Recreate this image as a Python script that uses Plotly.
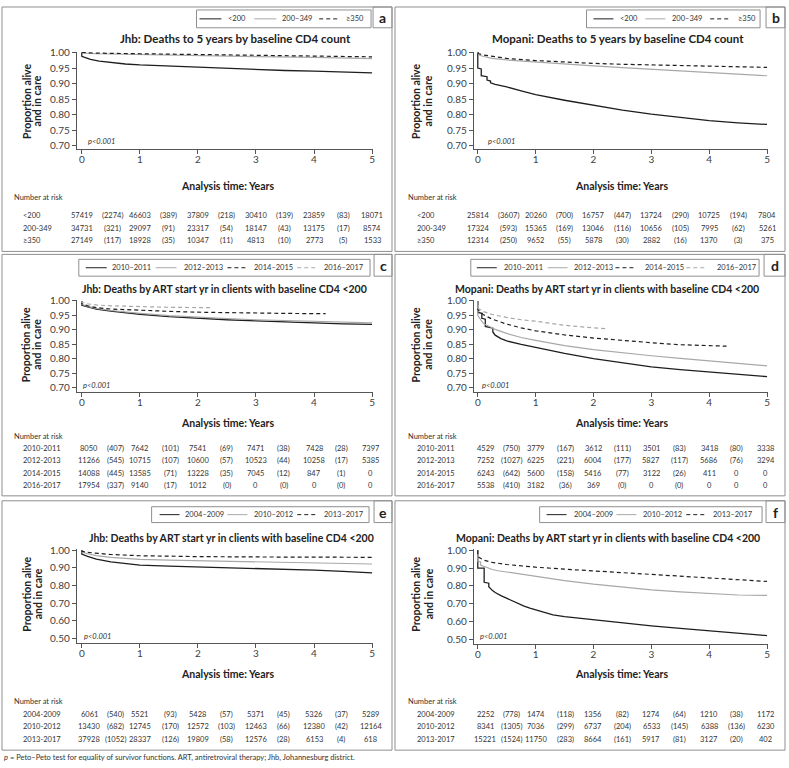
import plotly.graph_objects as go

# ---------------- data ----------------
# a: Jhb, deaths to 5 years by baseline CD4 count
A_LT200_T = [0, 0, 0.05, 0.15, 0.3, 0.5, 0.75, 1, 1.5, 2, 2.5, 3, 3.5, 4, 4.5, 5]
A_LT200_S = [1.0, 0.988, 0.984, 0.978, 0.972, 0.967, 0.963, 0.960, 0.956, 0.952, 0.948, 0.945, 0.942, 0.940, 0.937, 0.934]
A_200_T = [0, 0.05, 0.25, 0.5, 1, 2, 3, 4, 5]
A_200_S = [1.0, 0.998, 0.996, 0.995, 0.993, 0.990, 0.987, 0.984, 0.980]
A_350_T = [0, 0.25, 1, 2, 3, 4, 5]
A_350_S = [1.0, 0.998, 0.996, 0.993, 0.991, 0.988, 0.986]

# b: Mopani, deaths to 5 years by baseline CD4 count
B_LT200_T = [0, 0, 0.06, 0.06, 0.16, 0.16, 0.22, 0.22, 0.3, 0.4, 0.5, 0.75, 1, 1.5, 2, 2.5, 3, 3.5, 4, 4.5, 5]
B_LT200_S = [1.0, 0.95, 0.947, 0.925, 0.922, 0.911, 0.908, 0.902, 0.897, 0.893, 0.889, 0.876, 0.864, 0.846, 0.829, 0.814, 0.801, 0.790, 0.780, 0.773, 0.768]
B_200_T = [0, 0.02, 0.1, 0.25, 0.5, 1, 1.5, 2, 2.5, 3, 3.5, 4, 4.5, 5]
B_200_S = [1.0, 0.992, 0.987, 0.981, 0.976, 0.969, 0.963, 0.957, 0.951, 0.946, 0.940, 0.935, 0.930, 0.925]
B_350_T = [0, 0.02, 0.1, 0.25, 0.5, 1, 1.5, 2, 2.5, 3, 3.5, 4, 4.5, 5]
B_350_S = [1.0, 0.996, 0.992, 0.987, 0.981, 0.974, 0.969, 0.965, 0.962, 0.960, 0.958, 0.956, 0.954, 0.952]

# c: Jhb, deaths by ART start year, baseline CD4 <200
C_1011_T = [0, 0, 0.1, 0.25, 0.5, 0.75, 1, 1.5, 2, 2.5, 3, 3.5, 4, 4.5, 5]
C_1011_S = [1.0, 0.985, 0.979, 0.972, 0.965, 0.959, 0.954, 0.946, 0.940, 0.935, 0.931, 0.927, 0.924, 0.921, 0.919]
C_1213_T = [0, 0, 0.1, 0.25, 0.5, 0.75, 1, 1.5, 2, 2.5, 3, 3.5, 4, 4.5, 5]
C_1213_S = [1.0, 0.988, 0.981, 0.974, 0.967, 0.961, 0.957, 0.949, 0.943, 0.939, 0.935, 0.932, 0.929, 0.926, 0.924]
C_1415_T = [0, 0, 0.1, 0.25, 0.5, 1, 1.5, 2, 2.5, 3, 3.5, 4, 4.2]
C_1415_S = [1.0, 0.99, 0.983, 0.977, 0.972, 0.967, 0.964, 0.961, 0.959, 0.958, 0.957, 0.956, 0.956]
C_1617_T = [0, 0, 0.1, 0.25, 0.5, 1, 1.5, 2, 2.26]
C_1617_S = [1.0, 0.995, 0.99, 0.986, 0.983, 0.98, 0.978, 0.977, 0.977]

# d: Mopani, deaths by ART start year, baseline CD4 <200
D_1011_T = [0, 0, 0.07, 0.07, 0.13, 0.13, 0.2, 0.26, 0.26, 0.3, 0.4, 0.5, 0.75, 1, 1.5, 2, 2.5, 3, 3.5, 4, 4.5, 5]
D_1011_S = [1.0, 0.96, 0.957, 0.94, 0.937, 0.912, 0.909, 0.906, 0.893, 0.882, 0.870, 0.862, 0.850, 0.839, 0.819, 0.801, 0.786, 0.773, 0.763, 0.755, 0.747, 0.739]
D_1213_T = [0, 0, 0.05, 0.1, 0.2, 0.3, 0.5, 0.75, 1, 1.5, 2, 2.5, 3, 3.5, 4, 4.5, 5]
D_1213_S = [1.0, 0.95, 0.935, 0.922, 0.912, 0.902, 0.888, 0.874, 0.864, 0.846, 0.832, 0.821, 0.811, 0.802, 0.794, 0.785, 0.776]
D_1415_T = [0, 0, 0.1, 0.25, 0.5, 0.75, 1, 1.5, 2, 2.5, 3, 3.5, 4, 4.3]
D_1415_S = [1.0, 0.97, 0.952, 0.937, 0.92, 0.907, 0.897, 0.883, 0.872, 0.863, 0.856, 0.849, 0.845, 0.844]
D_1617_T = [0, 0, 0.1, 0.25, 0.5, 0.75, 1, 1.5, 2, 2.24]
D_1617_S = [1.0, 0.975, 0.963, 0.953, 0.943, 0.935, 0.930, 0.916, 0.907, 0.904]

# e: Jhb, deaths by ART start period, baseline CD4 <200
E_0409_T = [0, 0, 0.1, 0.25, 0.5, 0.75, 1, 1.5, 2, 2.5, 3, 3.5, 4, 4.5, 5]
E_0409_S = [1.0, 0.978, 0.965, 0.950, 0.934, 0.923, 0.916, 0.910, 0.906, 0.902, 0.897, 0.892, 0.887, 0.880, 0.872]
E_1012_T = [0, 0, 0.1, 0.25, 0.5, 0.75, 1, 1.5, 2, 2.5, 3, 3.5, 4, 4.5, 5]
E_1012_S = [1.0, 0.99, 0.98, 0.97, 0.960, 0.953, 0.948, 0.944, 0.941, 0.939, 0.935, 0.932, 0.928, 0.925, 0.922]
E_1317_T = [0, 0, 0.1, 0.25, 0.5, 1, 1.5, 2, 3, 4, 5]
E_1317_S = [1.0, 0.995, 0.988, 0.982, 0.976, 0.969, 0.966, 0.964, 0.962, 0.961, 0.960]

# f: Mopani, deaths by ART start period, baseline CD4 <200
F_0409_T = [0, 0, 0.11, 0.11, 0.19, 0.19, 0.25, 0.3, 0.4, 0.5, 0.6, 0.7, 0.8, 0.9, 1, 1.15, 1.3, 1.5, 1.75, 2, 2.5, 3, 3.5, 4, 4.5, 5]
F_0409_S = [1.0, 0.90, 0.90, 0.82, 0.815, 0.795, 0.775, 0.763, 0.745, 0.73, 0.715, 0.70, 0.686, 0.675, 0.665, 0.648, 0.637, 0.627, 0.618, 0.610, 0.591, 0.575, 0.561, 0.547, 0.533, 0.521]
F_1012_T = [0, 0, 0.05, 0.05, 0.15, 0.25, 0.35, 0.5, 0.75, 1, 1.5, 2, 2.5, 3, 3.5, 4, 4.5, 5]
F_1012_S = [1.0, 0.94, 0.935, 0.915, 0.905, 0.892, 0.885, 0.878, 0.865, 0.852, 0.83, 0.81, 0.793, 0.778, 0.766, 0.756, 0.749, 0.747]
F_1317_T = [0, 0, 0.1, 0.25, 0.5, 0.75, 1, 1.5, 2, 2.5, 3, 3.5, 4, 4.5, 5]
F_1317_S = [1.0, 0.965, 0.945, 0.932, 0.92, 0.912, 0.905, 0.894, 0.884, 0.874, 0.865, 0.856, 0.847, 0.837, 0.825]

# legend names
CD4_NAMES = ["&lt;200", "200–349", "≥350"]
YR4_NAMES = ["2010–2011", "2012–2013", "2014–2015", "2016–2017"]
YR3_NAMES = ["2004–2009", "2010–2012", "2013–2017"]

# number-at-risk tables
CD4_LABELS = ["&lt;200", "200-349", "≥350"]
YR4_LABELS = ["2010-2011", "2012-2013", "2014-2015", "2016-2017"]
YR3_LABELS = ["2004-2009", "2010-2012", "2013-2017"]

A_RISK = [
    ["57419", "(2274)", "46603", "(389)", "37809", "(218)", "30410", "(139)", "23859", "(83)", "18071"],
    ["34731", "(321)", "29097", "(91)", "23317", "(54)", "18147", "(43)", "13175", "(17)", "8574"],
    ["27149", "(117)", "18928", "(35)", "10347", "(11)", "4813", "(10)", "2773", "(5)", "1533"],
]
B_RISK = [
    ["25814", "(3607)", "20260", "(700)", "16757", "(447)", "13724", "(290)", "10725", "(194)", "7804"],
    ["17324", "(593)", "15365", "(169)", "13046", "(116)", "10656", "(105)", "7995", "(62)", "5261"],
    ["12314", "(250)", "9652", "(55)", "5878", "(30)", "2882", "(16)", "1370", "(3)", "375"],
]
C_RISK = [
    ["8050", "(407)", "7642", "(101)", "7541", "(69)", "7471", "(38)", "7428", "(28)", "7397"],
    ["11266", "(545)", "10715", "(107)", "10600", "(57)", "10523", "(44)", "10258", "(17)", "5385"],
    ["14088", "(445)", "13585", "(71)", "13228", "(35)", "7045", "(12)", "847", "(1)", "0"],
    ["17954", "(337)", "9140", "(17)", "1012", "(0)", "0", "(0)", "0", "(0)", "0"],
]
D_RISK = [
    ["4529", "(750)", "3779", "(167)", "3612", "(111)", "3501", "(83)", "3418", "(80)", "3338"],
    ["7252", "(1027)", "6225", "(221)", "6004", "(177)", "5827", "(117)", "5686", "(76)", "3294"],
    ["6243", "(642)", "5600", "(158)", "5416", "(77)", "3122", "(26)", "411", "0", "0"],
    ["5538", "(410)", "3182", "(36)", "369", "(0)", "0", "(0)", "0", "0", "0"],
]
E_RISK = [
    ["6061", "(540)", "5521", "(93)", "5428", "(57)", "5371", "(45)", "5326", "(37)", "5289"],
    ["13430", "(682)", "12745", "(170)", "12572", "(103)", "12463", "(66)", "12380", "(42)", "12164"],
    ["37928", "(1052)", "28337", "(126)", "19809", "(58)", "12576", "(28)", "6153", "(4)", "618"],
]
F_RISK = [
    ["2252", "(778)", "1474", "(118)", "1356", "(82)", "1274", "(64)", "1210", "(38)", "1172"],
    ["8341", "(1305)", "7036", "(299)", "6737", "(204)", "6533", "(145)", "6388", "(136)", "6230"],
    ["15221", "(1524)", "11750", "(283)", "8664", "(161)", "5917", "(81)", "3127", "(20)", "402"],
]

TITLES = {
    "a": "Jhb: Deaths to 5 years by baseline CD4 count",
    "b": "Mopani: Deaths to 5 years by baseline CD4 count",
    "c": "Jhb: Deaths by ART start yr in clients with baseline CD4 &lt;200",
    "d": "Mopani: Deaths by ART start yr in clients with baseline CD4 &lt;200",
    "e": "Jhb: Deaths by ART start yr in clients with baseline CD4 &lt;200",
    "f": "Mopani: Deaths by ART start yr in clients with baseline CD4 &lt;200",
}
FOOTNOTE = ("<i>p</i> = Peto–Peto test for equality of survivor functions. "
            "ART, antiretroviral therapy; Jhb, Johannesburg district.")

# ---------------- styling / layout ----------------
W, H = 789, 768
FONT = "Lato"
BLACK = "#1e1e1e"
GREY = "#a8a8a8"
FRAME = "#8f8f8f"
TXT = "#333333"

STYLES = [
    dict(color=BLACK, width=1.3),
    dict(color=GREY, width=1.2),
    dict(color=BLACK, width=1.2, dash="4px,3px"),
    dict(color=GREY, width=1.2, dash="4px,3px"),
]

COLS_AB = [0.0, 0.53, 1, 1.5, 2, 2.5, 3, 3.5, 4, 4.5, 5]
COLS_CF = [0.13, 0.58, 1, 1.52, 2, 2.5, 3, 3.48, 4, 4.47, 4.98]

LEFT = dict(axis_x=77, t0=82, t5=373, ytl=(27, 37.5), lab_x=21, nar_x=12, xt_x=228)
RIGHT = dict(axis_x=475, t0=479, t5=769, ytl=(417, 429.5), lab_x=416, nar_x=407, xt_x=623)

PANELS = {
    "a": dict(side=LEFT, box=(2, 1, 393, 248), letter=(374, 22), top=47, low=141, axis_y=145, ymin=0.70, dt=0.05,
              title_xy=(236, 33), tsize=11.5, ytc=96, p_xy=(86, 137), xt_y=182, nar_y=194, rows=[212, 224.5, 237],
              cols=COLS_AB, curves=[(A_LT200_T, A_LT200_S), (A_200_T, A_200_S), (A_350_T, A_350_S)],
              risk=A_RISK, labels=CD4_LABELS, names=CD4_NAMES,
              leg=(197, 4, 372, 22), items=[(200, 222, 227), (255, 277, 281), (320, 339, 345)]),
    "b": dict(side=RIGHT, box=(396, 1, 787, 248), letter=(768, 22), top=47, low=141, axis_y=145, ymin=0.70, dt=0.05,
              title_xy=(620, 33), tsize=11.5, ytc=96, p_xy=(487, 137), xt_y=182, nar_y=194, rows=[212, 224.5, 237],
              cols=COLS_AB, curves=[(B_LT200_T, B_LT200_S), (B_200_T, B_200_S), (B_350_T, B_350_S)],
              risk=B_RISK, labels=CD4_LABELS, names=CD4_NAMES,
              leg=(588, 4, 762, 22), items=[(595, 615, 620), (647, 667, 672), (712, 731, 738)]),
    "c": dict(side=LEFT, box=(2, 251, 393, 495), letter=(375, 273), top=298, low=386, axis_y=390, ymin=0.70, dt=0.05,
              title_xy=(225, 286), tsize=10.5, ytc=342, p_xy=(81, 383), xt_y=421, nar_y=435, rows=[447, 459.5, 472, 484.5],
              cols=COLS_CF, curves=[(C_1011_T, C_1011_S), (C_1213_T, C_1213_S), (C_1415_T, C_1415_S), (C_1617_T, C_1617_S)],
              risk=C_RISK, labels=YR4_LABELS, names=YR4_NAMES,
              leg=(79, 256, 371, 273), items=[(86, 107, 110), (156, 177, 182), (228, 248, 253), (298, 318, 323)]),
    "d": dict(side=RIGHT, box=(396, 251, 787, 495), letter=(766, 273), top=298, low=386, axis_y=390, ymin=0.70, dt=0.05,
              title_xy=(609, 286), tsize=10.5, ytc=342, p_xy=(481, 383), xt_y=421, nar_y=435, rows=[447, 459.5, 472, 484.5],
              cols=COLS_CF, curves=[(D_1011_T, D_1011_S), (D_1213_T, D_1213_S), (D_1415_T, D_1415_S), (D_1617_T, D_1617_S)],
              risk=D_RISK, labels=YR4_LABELS, names=YR4_NAMES,
              leg=(472, 256, 761, 273), items=[(478, 498, 503), (549, 569, 573), (617, 636, 645), (688, 707, 717)]),
    "e": dict(side=LEFT, box=(2, 500, 393, 752), letter=(375, 522), top=550, low=639, axis_y=644, ymin=0.50, dt=0.10,
              title_xy=(232, 538), tsize=10.5, ytc=594, p_xy=(82, 637), xt_y=675, nar_y=703, rows=[716, 728.5, 741],
              cols=COLS_CF, curves=[(E_0409_T, E_0409_S), (E_1012_T, E_1012_S), (E_1317_T, E_1317_S)],
              risk=E_RISK, labels=YR3_LABELS, names=YR3_NAMES,
              leg=(152, 506, 370, 522), items=[(160, 180, 183), (228, 248, 253), (298, 318, 323)]),
    "f": dict(side=RIGHT, box=(396, 500, 787, 752), letter=(768, 522), top=550, low=640, axis_y=645, ymin=0.50, dt=0.10,
              title_xy=(610, 538), tsize=10.5, ytc=594, p_xy=(479, 637), xt_y=675, nar_y=703, rows=[716, 728.5, 741],
              cols=COLS_CF, curves=[(F_0409_T, F_0409_S), (F_1012_T, F_1012_S), (F_1317_T, F_1317_S)],
              risk=F_RISK, labels=YR3_LABELS, names=YR3_NAMES,
              leg=(541, 506, 764, 522), items=[(548, 568, 573), (618, 638, 643), (688, 708, 713)]),
}


def fx(px):
    return px / W


def fy(py):
    return 1 - py / H


def text(x, y, s, size=7.5, xanchor="left", bold=False, italic=False, color=TXT, **kw):
    if bold:
        s = f"<b>{s}</b>"
    if italic:
        s = f"<i>{s}</i>"
    return dict(x=x, y=y, xref=kw.pop("xref", "paper"), yref="paper", text=s, showarrow=False,
                xanchor=xanchor, yanchor="middle", font=dict(family=FONT, size=size, color=color), **kw)


fig = go.Figure()
annotations, shapes = [], []

for i, (key, p) in enumerate(PANELS.items()):
    side = p["side"]
    n = "" if i == 0 else str(i + 1)
    xa, ya = "xaxis" + n, "yaxis" + n
    xref, yref = "x" + n, "y" + n

    # axes scaled so that ticks fall on the same pixels as the original
    xs = (side["t5"] - side["t0"]) / 5
    xmin = -(side["t0"] - side["axis_x"]) / xs
    ys = (p["low"] - p["top"]) / (1 - p["ymin"])
    ymin = p["ymin"] - (p["axis_y"] - p["low"]) / ys
    ymax = 1 + 1.0 / ys
    tickvals = [round(p["ymin"] + k * p["dt"], 2) for k in range(int(round((1 - p["ymin"]) / p["dt"])) + 1)]
    common = dict(showline=True, linecolor="#555555", linewidth=1, ticks="outside", ticklen=4,
                  tickcolor="#555555", tickwidth=1, showgrid=False, zeroline=False,
                  tickfont=dict(family=FONT, size=10, color="#404040"))
    fig.update_layout({
        xa: dict(domain=[fx(side["axis_x"]), fx(side["t5"] + 1)], range=[xmin, 5 + 1 / xs],
                 tickvals=[0, 1, 2, 3, 4, 5], anchor=yref, ticklabelstandoff=-3, **common),
        ya: dict(domain=[fy(p["axis_y"]), fy(p["top"] - 1)], range=[ymin, ymax],
                 tickvals=tickvals, tickformat=".2f", anchor=xref, **common),
    })

    for (t, s), style in zip(p["curves"], STYLES):
        fig.add_trace(go.Scatter(x=t, y=s, mode="lines", line=style, xaxis=xref, yaxis=yref,
                                 showlegend=False, hoverinfo="skip"))

    # panel frame and letter tab
    x0, y0, x1, y1 = p["box"]
    shapes.append(dict(type="rect", xref="paper", yref="paper", x0=fx(x0), x1=fx(x1), y0=fy(y0), y1=fy(y1),
                       line=dict(color=FRAME, width=1)))
    lx, ly = p["letter"]
    shapes.append(dict(type="rect", xref="paper", yref="paper", x0=fx(lx), x1=fx(x1), y0=fy(y0), y1=fy(ly),
                       line=dict(color=FRAME, width=1)))
    annotations.append(text(fx((lx + x1) / 2), fy((y0 + ly) / 2 + 0.5), key, size=14, xanchor="center",
                            bold=True, color="#222222"))

    # legend box
    gx0, gy0, gx1, gy1 = p["leg"]
    shapes.append(dict(type="rect", xref="paper", yref="paper", x0=fx(gx0), x1=fx(gx1), y0=fy(gy0), y1=fy(gy1),
                       line=dict(color=FRAME, width=1)))
    gyc = (gy0 + gy1) / 2
    for (sx0, sx1, tx), name, style in zip(p["items"], p["names"], STYLES):
        shapes.append(dict(type="line", xref="paper", yref="paper", x0=fx(sx0), x1=fx(sx1), y0=fy(gyc), y1=fy(gyc),
                           line=dict(color=style["color"], width=1, dash=style.get("dash", "solid"))))
        annotations.append(text(fx(tx), fy(gyc), name, size=7.5))

    # titles
    tx, ty = p["title_xy"]
    annotations.append(text(fx(tx), fy(ty), TITLES[key], size=p["tsize"], xanchor="center", bold=True,
                            color="#222222"))
    for yx, line in zip(side["ytl"], ["Proportion alive", "and in care"]):
        annotations.append(text(fx(yx), fy(p["ytc"]), line, size=10.5, xanchor="center", bold=True,
                                color="#222222", textangle=-90))
    annotations.append(text(fx(p["p_xy"][0]), fy(p["p_xy"][1]), "p&lt;0.001", size=7.5, italic=True))
    annotations.append(text(fx(side["xt_x"]), fy(p["xt_y"]), "Analysis time: Years", size=10.5,
                            xanchor="center", bold=True, color="#222222"))

    # number at risk
    annotations.append(text(fx(side["nar_x"]), fy(p["nar_y"]), "Number at risk", size=7.5))
    for row_y, label, row in zip(p["rows"], p["labels"], p["risk"]):
        annotations.append(text(fx(side["lab_x"]), fy(row_y), label, size=7.5))
        for cx, val in zip(p["cols"], row):
            annotations.append(text(cx, fy(row_y), val, size=7.5, xanchor="center", xref=xref))

annotations.append(text(fx(2), fy(759), FOOTNOTE, size=7.5))

fig.update_layout(
    width=W, height=H, autosize=False,
    margin=dict(l=0, r=0, t=0, b=0),
    paper_bgcolor="white", plot_bgcolor="white",
    showlegend=False,
    annotations=annotations, shapes=shapes,
)

fig.write_html("out.html", config={"displayModeBar": False},
               post_script="document.body.style.margin='0';")
